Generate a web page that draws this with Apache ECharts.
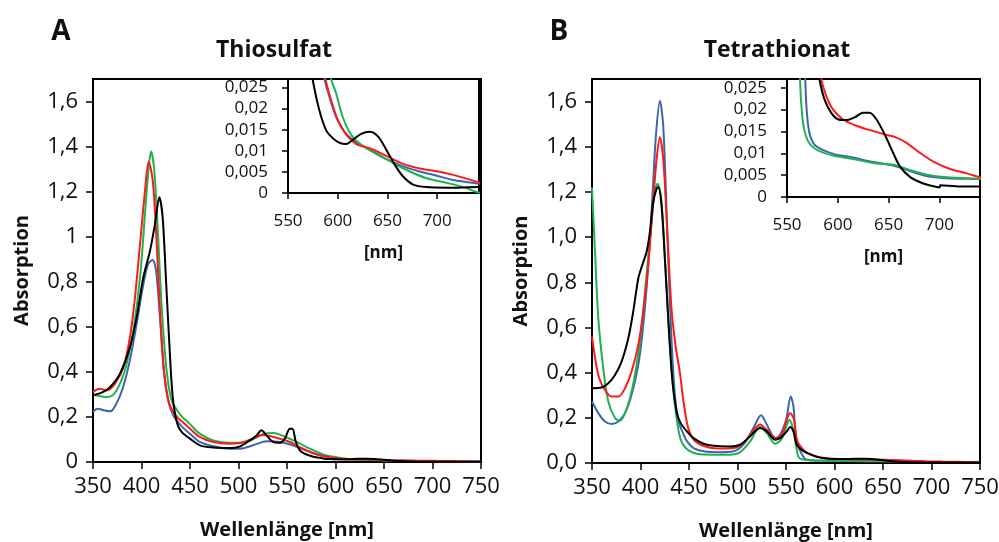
<!DOCTYPE html>
<html><head><meta charset="utf-8">
<script src="https://cdn.jsdelivr.net/npm/echarts@6/dist/echarts.min.js"></script>
<style>html,body{margin:0;padding:0;background:#fff}#c{width:999px;height:542px}</style>
</head><body><div id="c"></div>
<script>
// ---------- DATA (wavelength nm, absorbance) ----------
const thioBlue = [[350,0.222],[355,0.236],[362,0.229],[368,0.225],[374,0.258],[381,0.332],[388,0.451],[395,0.613],[402,0.791],[407,0.879],[411.5,0.897],[415,0.849],[419,0.643],[423,0.406],[427.5,0.273],[433,0.205],[440,0.165],[450,0.125],[460,0.089],[474,0.07],[491,0.059],[501,0.059],[515,0.074],[529,0.092],[543,0.089],[556,0.074],[567,0.055],[580,0.034],[586.6,0.027],[591.6,0.0228],[598.4,0.018],[606.8,0.0145],[615.2,0.0126],[632,0.0102],[648.9,0.008],[665.7,0.0063],[682.5,0.0051],[699.4,0.0041],[716.2,0.0031],[742,0.0022],[750,0.002]];
const thioGreen = [[350,0.298],[357,0.293],[364,0.288],[370,0.295],[374.4,0.318],[380,0.37],[384.7,0.436],[391.6,0.584],[398.5,0.82],[403.6,1.101],[407.1,1.293],[409.8,1.378],[412.9,1.307],[416.3,1.071],[420.8,0.687],[425.9,0.406],[431.1,0.273],[437.9,0.222],[442,0.2],[450,0.168],[460,0.126],[474,0.096],[491,0.085],[508,0.089],[525,0.123],[536,0.129],[549,0.11],[560,0.089],[573.5,0.059],[587.3,0.034],[593.3,0.027],[598.4,0.0236],[605,0.018],[613.5,0.0138],[623.6,0.0114],[638.8,0.0094],[655.6,0.0071],[672.4,0.0051],[689.3,0.0035],[709.5,0.0024],[726.3,0.0014],[742,0.0001],[750,0]];
const thioRed = [[350,0.311],[357,0.325],[364,0.318],[372.7,0.348],[381.3,0.421],[388.1,0.554],[393.3,0.731],[398.5,0.968],[403.6,1.204],[407.4,1.333],[411.6,1.249],[415,1.027],[419.1,0.672],[423.2,0.406],[428.7,0.258],[435.6,0.205],[443,0.175],[450,0.148],[460,0.111],[474,0.089],[491,0.081],[501,0.084],[512,0.099],[525,0.12],[539,0.108],[553,0.089],[563,0.066],[577,0.04],[587.6,0.027],[593.3,0.022],[600,0.0173],[608.5,0.0138],[618.6,0.0116],[632,0.0106],[648.9,0.0088],[665.7,0.0069],[682.5,0.0058],[701,0.0051],[716.2,0.0043],[742,0.0025],[750,0.002]];
const thioBlack = [[350,0.296],[360,0.31],[367.5,0.332],[377.8,0.392],[388.1,0.51],[395,0.643],[401.9,0.82],[408.8,0.938],[413.9,1.057],[418.4,1.175],[421.8,1.086],[425.3,0.805],[428.7,0.525],[432.2,0.288],[436.9,0.17],[442,0.13],[449.9,0.104],[460.2,0.074],[474,0.064],[491,0.062],[501.4,0.069],[511.7,0.096],[518.6,0.118],[523.7,0.141],[528.9,0.118],[535.7,0.089],[542.6,0.085],[547.8,0.104],[552.9,0.148],[555.7,0.148],[559.1,0.089],[563.2,0.052],[568,0.037],[574.7,0.027],[581.5,0.0196],[588.3,0.0149],[595,0.013],[601.7,0.0119],[608.5,0.0116],[615.2,0.0126],[623.6,0.014],[632,0.0145],[640.4,0.0134],[648.9,0.0102],[657.3,0.0067],[665.7,0.0039],[675.8,0.002],[689.3,0.0014],[709.5,0.00125],[742,0.0014],[750,0.0014]];

const tetraBlue = [[350,0.272],[356.5,0.221],[363.4,0.184],[370.2,0.173],[377.1,0.184],[384,0.221],[390.8,0.302],[397.7,0.434],[402.9,0.611],[408,0.876],[412.2,1.17],[415.9,1.45],[420,1.604],[423.4,1.494],[426.9,1.111],[430.3,0.714],[433.7,0.405],[438.2,0.199],[444,0.13],[448,0.096],[454.7,0.066],[465,0.052],[482,0.048],[495.8,0.052],[506,0.081],[516.4,0.155],[524.3,0.211],[530.2,0.17],[538.8,0.11],[543.9,0.125],[550.1,0.191],[554.9,0.294],[557.7,0.25],[560.4,0.103],[564.5,0.055],[568,0.027],[569.3,0.0201],[572,0.0147],[577,0.012],[585.1,0.0108],[598.4,0.0097],[611.6,0.0092],[634.7,0.008],[654.5,0.0072],[667.7,0.0062],[687.5,0.0048],[707.3,0.0043],[740,0.0041],[750,0.004]];
const tetraGreen = [[350,1.22],[353.1,0.934],[356.5,0.64],[361.6,0.419],[366.8,0.272],[373.7,0.199],[378.8,0.187],[384,0.221],[389.1,0.287],[394.3,0.39],[399.4,0.537],[404.6,0.758],[409.7,0.993],[414.2,1.185],[417.6,1.236],[421,1.185],[424.5,0.964],[428.6,0.64],[432.7,0.375],[437.2,0.199],[441,0.11],[445,0.075],[450,0.055],[458,0.041],[475,0.037],[492,0.037],[502.7,0.048],[513,0.096],[523.3,0.159],[530.2,0.132],[538.8,0.085],[545.6,0.106],[550.8,0.169],[553.5,0.191],[557,0.155],[561.1,0.059],[562.8,0.027],[565.3,0.0178],[568.7,0.0139],[573.7,0.0118],[581.9,0.0105],[595,0.0095],[614.9,0.0087],[634.7,0.0078],[654.5,0.0074],[667.7,0.0064],[687.5,0.0051],[707.3,0.0045],[740,0.0042],[750,0.004]];
const tetraRed = [[350,0.56],[356.5,0.39],[363.4,0.323],[370.2,0.294],[377.1,0.294],[384,0.331],[390.8,0.405],[397.7,0.523],[402.9,0.67],[408,0.876],[412.2,1.111],[416.6,1.346],[420,1.442],[423.7,1.332],[427.8,1.008],[432,0.68],[436.1,0.52],[440.6,0.4],[444.4,0.27],[449.5,0.15],[456.4,0.096],[468.4,0.071],[485.5,0.064],[499.3,0.07],[509.6,0.103],[523.3,0.17],[530.2,0.147],[539.8,0.11],[545.6,0.125],[550.8,0.191],[554.2,0.221],[558.3,0.191],[561.8,0.096],[569.7,0.052],[577,0.035],[583.6,0.027],[588.5,0.0232],[595,0.0201],[604.9,0.0178],[618.2,0.0163],[634.7,0.0151],[646.2,0.0143],[657.8,0.0136],[667.7,0.0124],[680.9,0.0101],[694.1,0.0081],[710.6,0.0064],[727.1,0.0054],[740,0.0045],[750,0.004]];
const tetraBlack = [[350,0.331],[359.9,0.334],[366.8,0.353],[373.7,0.39],[380.5,0.449],[387.4,0.552],[392.5,0.67],[397.7,0.817],[401.8,0.876],[406.3,0.935],[409.7,1.023],[413.1,1.155],[416.6,1.214],[418.3,1.221],[421.7,1.14],[425.1,0.905],[428.6,0.64],[432.7,0.375],[437.2,0.228],[441,0.18],[447.8,0.14],[454.7,0.11],[465,0.085],[475.3,0.076],[492.4,0.073],[502.7,0.081],[513,0.118],[523.3,0.155],[530.2,0.14],[538.8,0.103],[543.9,0.11],[550.8,0.14],[554.2,0.159],[557.7,0.14],[561.1,0.081],[568,0.052],[578.3,0.033],[581.9,0.027],[586.8,0.0224],[593.4,0.0193],[600,0.0178],[608.3,0.0176],[616.5,0.0182],[624.8,0.0193],[631.4,0.0193],[638,0.0178],[646.2,0.0143],[654.5,0.0101],[661.1,0.007],[671,0.0046],[684.2,0.0031],[697.4,0.0023],[700.3,0.0022],[700.8,0.0027],[720.5,0.0024],[740,0.0024],[750,0.0024]];

const panelTitles = ['Thiosulfat', 'Tetrathionat'];
const panelLetters = ['A', 'B'];
const xAxisName = 'Wellenlänge [nm]';
const yAxisName = 'Absorption';
const insetXName = '[nm]';
const mainX = {min: 350, max: 750, step: 50};
const mainY = {min: 0, max: 1.7, step: 0.2, lastTick: 1.6};
const insetXA = {min: 550, max: 742, step: 50, lastTick: 700};
const insetXB = {min: 550, max: 740, step: 50, lastTick: 700};
const insetY = {min: 0, max: 0.027, step: 0.005, lastTick: 0.025};

// ---------- STYLE ----------
const FONT = '"Open Sans", "Noto Sans", sans-serif';
const COL = {blue: '#3c66ab', green: '#1fb24e', red: '#ff1a1a', black: '#000000'};
const seriesSets = [
  [['blue', thioBlue], ['green', thioGreen], ['red', thioRed], ['black', thioBlack]],
  [['blue', tetraBlue], ['green', tetraGreen], ['red', tetraRed], ['black', tetraBlack]]
];

const comma = v => String(parseFloat(v.toFixed(4))).replace('.', ',');

const gridBase = {show: true, borderColor: '#000', borderWidth: 2, outerBoundsMode: 'none', containLabel: false};
const grids = [
  Object.assign({left: 93, top: 79, width: 388, height: 383, backgroundColor: 'transparent'}, gridBase),
  Object.assign({left: 288, top: 79, width: 191, height: 114, backgroundColor: '#fff', z: 3}, gridBase),
  Object.assign({left: 592, top: 79, width: 388, height: 384, backgroundColor: 'transparent'}, gridBase),
  Object.assign({left: 787, top: 79, width: 193, height: 118, backgroundColor: '#fff', z: 3}, gridBase)
];

function mainXAxis(gi) {
  return {type: 'value', gridIndex: gi, min: mainX.min, max: mainX.max, interval: mainX.step,
    axisLine: {lineStyle: {color: '#000', width: 2}},
    axisTick: {length: 7, lineStyle: {color: '#000', width: 1.5}},
    axisLabel: {color: '#111', fontSize: 22, fontFamily: FONT, margin: 14},
    splitLine: {show: false},
    name: xAxisName, nameLocation: 'middle', nameGap: 58,
    nameTextStyle: {color: '#111', fontSize: 20, fontWeight: 'bold', fontFamily: FONT}};
}
function mainYAxis(gi, fmt) {
  return {type: 'value', gridIndex: gi, min: mainY.min, max: mainY.max, interval: mainY.step,
    axisLine: {lineStyle: {color: '#000', width: 2}},
    axisTick: {length: 7, lineStyle: {color: '#000', width: 1.5}},
    axisLabel: {color: '#111', fontSize: 22, fontFamily: FONT, margin: 15, showMaxLabel: false,
      formatter: v => v > mainY.lastTick + 1e-9 ? '' : fmt(v)},
    splitLine: {show: false},
    name: yAxisName, nameLocation: 'middle', nameGap: 61,
    nameTextStyle: {color: '#111', fontSize: 20, fontWeight: 'bold', fontFamily: FONT}};
}
function insetXAxis(gi, cfg) {
  return {type: 'value', gridIndex: gi, min: cfg.min, max: cfg.max, interval: cfg.step,
    axisLine: {lineStyle: {color: '#000', width: 2}},
    axisTick: {length: 6, lineStyle: {color: '#000', width: 1.5}},
    axisLabel: {color: '#111', fontSize: 17, fontFamily: FONT, margin: 20, showMaxLabel: false,
      formatter: v => v > cfg.lastTick ? '' : String(v)},
    splitLine: {show: false},
    name: insetXName, nameLocation: 'middle', nameGap: 52,
    nameTextStyle: {color: '#111', fontSize: 17, fontWeight: 'bold', fontFamily: FONT}};
}
function insetYAxis(gi) {
  return {type: 'value', gridIndex: gi, min: insetY.min, max: insetY.max, interval: insetY.step,
    axisLine: {lineStyle: {color: '#000', width: 2}},
    axisTick: {length: 6, lineStyle: {color: '#000', width: 1.5}},
    axisLabel: {color: '#111', fontSize: 17, fontFamily: FONT, margin: 20, showMaxLabel: false,
      formatter: v => v > insetY.lastTick + 1e-9 ? '' : comma(v)},
    splitLine: {show: false}};
}

const xAxes = [mainXAxis(0), insetXAxis(1, insetXA), mainXAxis(2), insetXAxis(3, insetXB)];
const yAxes = [mainYAxis(0, comma), insetYAxis(1), mainYAxis(2, v => v.toFixed(1).replace('.', ',')), insetYAxis(3)];

const series = [];
seriesSets.forEach((set, p) => {
  [p * 2, p * 2 + 1].forEach(gi => {
    set.forEach(([c, data]) => {
      series.push({type: 'line', xAxisIndex: gi, yAxisIndex: gi, data: data, smooth: 0.3,
        showSymbol: false, clip: true, z: gi % 2 ? 5 : 2,
        lineStyle: {color: COL[c], width: 2}, itemStyle: {color: COL[c]}});
    });
  });
});

const graphic = [];
const titleX = [274, 777], letterX = [61, 559];
panelTitles.forEach((t, i) => {
  graphic.push({type: 'text', x: titleX[i], y: 50, style: {text: t, fill: '#111', font: 'bold 23px ' + FONT, textAlign: 'center', textVerticalAlign: 'middle'}});
  graphic.push({type: 'text', x: letterX[i], y: 32, style: {text: panelLetters[i], fill: '#111', font: 'bold 28px ' + FONT, textAlign: 'center', textVerticalAlign: 'middle'}});
});

const chart = echarts.init(document.getElementById('c'), null, {renderer: 'canvas'});
chart.setOption({animation: false, backgroundColor: '#fff', grid: grids, xAxis: xAxes, yAxis: yAxes, series: series, graphic: graphic});
</script></body></html>
